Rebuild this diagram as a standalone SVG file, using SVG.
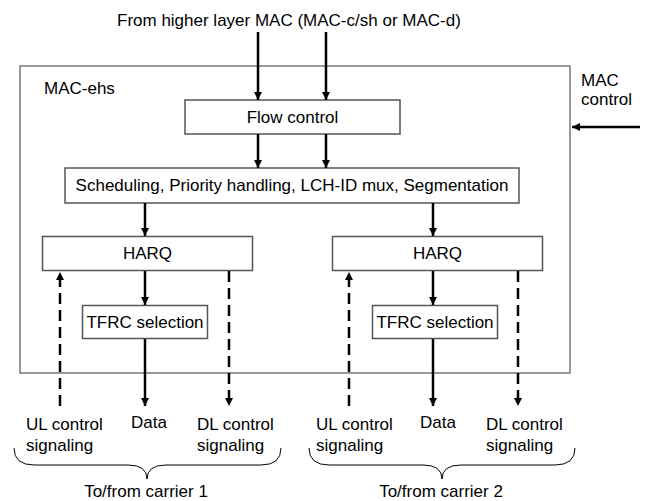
<svg xmlns="http://www.w3.org/2000/svg" width="646" height="501" viewBox="0 0 646 501">
<style>
  text { font-family: "Liberation Sans", Arial, sans-serif; font-size: 17px; fill: #000; }
  .box { fill: #fff; stroke: #555; stroke-width: 1.5; }
  .outer { fill: none; stroke: #777; stroke-width: 1.5; }
  .arr { stroke: #000; stroke-width: 2.5; fill: none; marker-end: url(#ah); }
  .dash { stroke: #000; stroke-width: 2.5; fill: none; stroke-dasharray: 11 6; marker-end: url(#ah); }
  .brace { fill: none; stroke: #000; stroke-width: 1; }
</style>
<defs>
  <marker id="ah" viewBox="0 0 10 10" refX="10" refY="5" markerWidth="3.2" markerHeight="3.2" orient="auto" markerUnits="strokeWidth">
    <path d="M0,0 L10,5 L0,10 z" fill="#000"/>
  </marker>
</defs>
<rect width="646" height="501" fill="#fff"/>

<g id="mac-ehs">
  <rect class="outer" x="20" y="66" width="550" height="307"/>
  <text x="44" y="94">MAC-ehs</text>
</g>
<g id="title"><text x="117" y="26">From higher layer MAC (MAC-c/sh or MAC-d)</text></g>
<g id="mac-control"><text x="581" y="86">MAC</text><text x="581" y="105">control</text></g>

<g id="flow-control">
  <rect class="box" x="185" y="100" width="215" height="34"/>
  <text x="292.5" y="123" text-anchor="middle">Flow control</text>
</g>
<g id="scheduling">
  <rect class="box" x="65" y="168" width="454" height="35"/>
  <text x="292" y="191" text-anchor="middle">Scheduling, Priority handling, LCH-ID mux, Segmentation</text>
</g>
<g id="harq1">
  <rect class="box" x="42.5" y="236.5" width="210" height="34"/>
  <text x="147.5" y="259" text-anchor="middle">HARQ</text>
</g>
<g id="harq2">
  <rect class="box" x="332.5" y="236.5" width="210" height="34"/>
  <text x="437.5" y="259" text-anchor="middle">HARQ</text>
</g>
<g id="tfrc1">
  <rect class="box" x="82.5" y="305.5" width="125" height="33"/>
  <text x="145" y="328" text-anchor="middle">TFRC selection</text>
</g>
<g id="tfrc2">
  <rect class="box" x="372.5" y="305.5" width="125" height="33"/>
  <text x="435" y="328" text-anchor="middle">TFRC selection</text>
</g>

<g id="connectors">
  <line class="arr" x1="258" y1="32" x2="258" y2="100"/>
  <line class="arr" x1="326" y1="32" x2="326" y2="100"/>
  <line class="arr" x1="258" y1="134" x2="258" y2="168"/>
  <line class="arr" x1="326" y1="134" x2="326" y2="168"/>
  <line class="arr" x1="640" y1="127" x2="572" y2="127"/>
  <line class="arr" x1="145" y1="203" x2="145" y2="236"/>
  <line class="arr" x1="433" y1="203" x2="433" y2="236"/>
  <line class="arr" x1="145" y1="271" x2="145" y2="305"/>
  <line class="arr" x1="433" y1="271" x2="433" y2="305"/>
  <line class="arr" x1="145" y1="339" x2="145" y2="406"/>
  <line class="arr" x1="433" y1="339" x2="433" y2="406"/>
  <line class="dash" x1="60" y1="406" x2="60" y2="272"/>
  <line class="dash" x1="349" y1="406" x2="349" y2="272"/>
  <line class="dash" x1="229" y1="271" x2="229" y2="406"/>
  <line class="dash" x1="518" y1="271" x2="518" y2="406"/>
</g>

<g id="labels1">
  <text x="26" y="430">UL control</text>
  <text x="26" y="451">signaling</text>
  <text x="131" y="428">Data</text>
  <text x="197" y="430">DL control</text>
  <text x="197" y="451">signaling</text>
</g>
<g id="labels2">
  <text x="316" y="430">UL control</text>
  <text x="316" y="451">signaling</text>
  <text x="420" y="428">Data</text>
  <text x="486" y="430">DL control</text>
  <text x="486" y="451">signaling</text>
</g>
<g id="brace1">
  <path class="brace" d="M14,448 Q14,465 34,465 L128,465 Q147,465 147,479 Q147,465 166,465 L261,465 Q281,465 281,448"/>
  <text x="146" y="497" text-anchor="middle">To/from carrier 1</text>
</g>
<g id="brace2">
  <path class="brace" d="M309,448 Q309,465 329,465 L423,465 Q442,465 442,479 Q442,465 461,465 L555,465 Q575,465 575,448"/>
  <text x="441" y="497" text-anchor="middle">To/from carrier 2</text>
</g>
</svg>
